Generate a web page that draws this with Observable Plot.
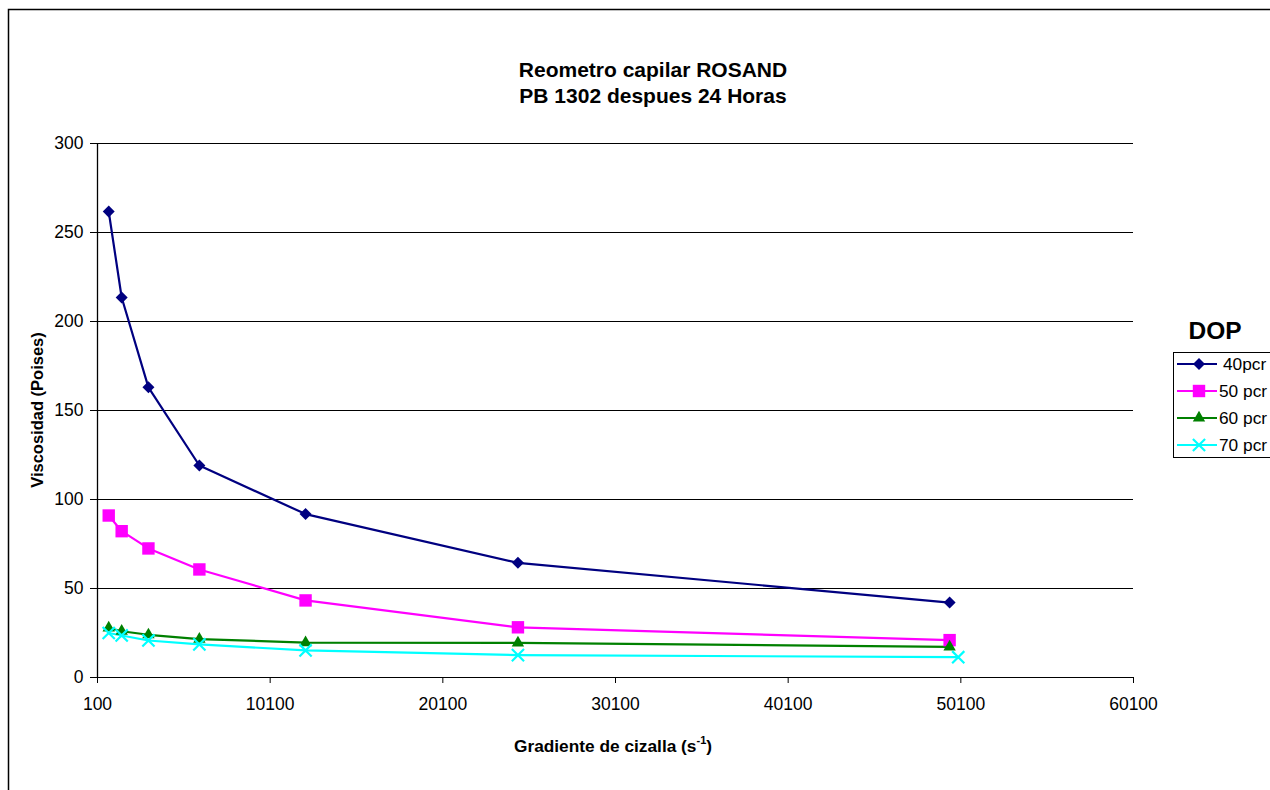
<!DOCTYPE html>
<html><head><meta charset="utf-8">
<script src="https://cdn.jsdelivr.net/npm/d3@7"></script>
<script src="https://cdn.jsdelivr.net/npm/@observablehq/plot@0.6"></script>
<style>
body{margin:0;background:#fff;font-family:"Liberation Sans",Arial,sans-serif;}
svg{display:block}
</style></head><body>
<div id="chart"></div>
<script>
const titleLines = ["Reometro capilar ROSAND", "PB 1302 despues 24 Horas"];
const yLabel = "Viscosidad (Poises)";
const legendTitle = "DOP";
const seriesNames = ["40pcr", "50 pcr", "60 pcr", "70 pcr"];
const seriesColors = ["#000080", "#FF00FF", "#008000", "#00FFFF"];
const seriesSymbols = ["diamond2", "square", "triangle", "times"];
const seriesR = [5.4, 7.0, 4.6, 5.6];

const shearRate = [750, 1500, 3050, 6000, 12150, 24450, 49450];
const shearRate70 = [750, 1500, 3050, 6000, 12150, 24450, 49950];
const visc40 = [261.8, 213.5, 163.0, 119.1, 91.8, 64.4, 42.1];
const visc50 = [91.0, 82.2, 72.5, 60.7, 43.3, 28.2, 21.0];
const visc60 = [27.8, 26.0, 24.0, 21.6, 19.6, 19.4, 17.2];
const visc70 = [25.0, 23.6, 20.8, 18.6, 15.2, 12.6, 11.4];

const xTicks = [100, 10100, 20100, 30100, 40100, 50100, 60100];
const yTicks = [0, 50, 100, 150, 200, 250, 300];

const seriesX = [shearRate, shearRate, shearRate, shearRate70];
const seriesY = [visc40, visc50, visc60, visc70];
const rows = [];
seriesNames.forEach((name, i) => {
  seriesY[i].forEach((v, j) => rows.push({series: name, x: seriesX[i][j], y: v, idx: i}));
});

const marks = [
  Plot.ruleY(yTicks, {stroke: "#000", strokeWidth: 1}),
  Plot.ruleX([100], {stroke: "#000", strokeWidth: 1.3})
];
seriesNames.forEach((name, i) => {
  const d = rows.filter(r => r.series === name);
  marks.push(Plot.line(d, {x: "x", y: "y", stroke: seriesColors[i], strokeWidth: 2.2}));
});
seriesNames.forEach((name, i) => {
  const d = rows.filter(r => r.series === name);
  const isStroke = seriesSymbols[i] === "times";
  marks.push(Plot.dot(d, {x: "x", y: "y", symbol: () => seriesSymbols[i], r: seriesR[i],
    fill: isStroke ? "none" : seriesColors[i], stroke: isStroke ? seriesColors[i] : "none", strokeWidth: isStroke ? 2.2 : 0}));
});

const plot = Plot.plot({
  width: 1270, height: 790,
  marginLeft: 97, marginRight: 137, marginTop: 143, marginBottom: 113,
  style: {fontFamily: "'Liberation Sans', Arial, sans-serif", fontSize: "17.5px", color: "#000", background: "#fff"},
  symbol: {type: "identity"},
  x: {domain: [100, 60100], ticks: xTicks, tickFormat: d => String(d), tickSize: 6, tickPadding: 14, label: null, line: true},
  y: {domain: [0, 300], ticks: yTicks, tickFormat: d => String(d), tickSize: 7, tickPadding: 7, label: null},
  marks
});
document.getElementById("chart").appendChild(plot);

const svg = d3.select(plot);
svg.selectAll("[aria-label='x-axis tick label'] text, [aria-label='y-axis tick label'] text").attr("font-size", 17.5);

// outer frame
svg.append("rect").attr("x", 8.5).attr("y", 9.5).attr("width", 1400).attr("height", 1000)
  .attr("fill", "none").attr("stroke", "#000").attr("stroke-width", 1.5);

// title
titleLines.forEach((t, i) => {
  svg.append("text").attr("x", 653).attr("y", 77 + i * 26).attr("text-anchor", "middle")
    .attr("font-weight", "bold").attr("font-size", 21).text(t);
});

// y label
svg.append("text").attr("transform", "translate(43,410) rotate(-90)").attr("text-anchor", "middle")
  .attr("font-weight", "bold").attr("font-size", 16.5).text(yLabel);

// x label with superscript
const xl = svg.append("text").attr("x", 613).attr("y", 752).attr("text-anchor", "middle")
  .attr("font-weight", "bold").attr("font-size", 17.3);
xl.append("tspan").text("Gradiente de cizalla (s");
xl.append("tspan").attr("dy", -8).attr("font-size", 11).text("-1");
xl.append("tspan").attr("dy", 8).text(")");

// legend
svg.append("text").attr("x", 1215).attr("y", 339).attr("text-anchor", "middle")
  .attr("font-weight", "bold").attr("font-size", 24.5).text(legendTitle);
svg.append("rect").attr("x", 1173.5).attr("y", 352.5).attr("width", 140).attr("height", 105)
  .attr("fill", "#fff").attr("stroke", "#000").attr("stroke-width", 1);
const symMap = {diamond2: d3.symbolDiamond2, square: d3.symbolSquare, triangle: d3.symbolTriangle, times: d3.symbolTimes};
seriesNames.forEach((name, i) => {
  const y = 364 + i * 27;
  svg.append("line").attr("x1", 1177).attr("x2", 1217).attr("y1", y).attr("y2", y)
    .attr("stroke", seriesColors[i]).attr("stroke-width", 2.2);
  const isStroke = seriesSymbols[i] === "times";
  svg.append("path").attr("transform", `translate(1199,${y})`)
    .attr("d", d3.symbol(symMap[seriesSymbols[i]], Math.PI * seriesR[i] * seriesR[i])())
    .attr("fill", isStroke ? "none" : seriesColors[i]).attr("stroke", isStroke ? seriesColors[i] : "none")
    .attr("stroke-width", 2.2);
  svg.append("text").attr("x", i === 0 ? 1223 : 1219).attr("y", y + 6).attr("text-anchor", "start")
    .attr("font-size", 17.3).text(name);
});
</script>
</body></html>
